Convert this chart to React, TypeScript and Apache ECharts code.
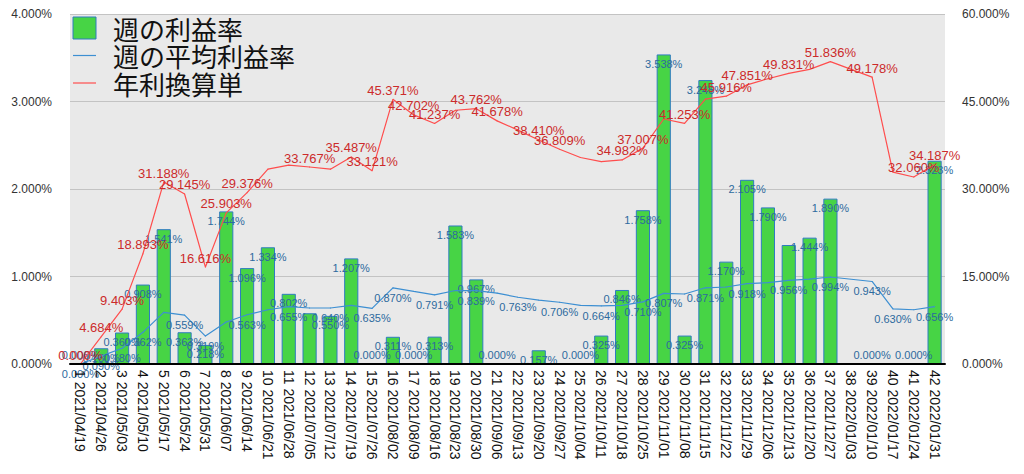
import React, { useEffect, useRef } from "react";
import * as echarts from "echarts";

const categories = [
  "1 2021/04/19", "2 2021/04/26", "3 2021/05/03", "4 2021/05/10", "5 2021/05/17",
  "6 2021/05/24", "7 2021/05/31", "8 2021/06/07", "9 2021/06/14", "10 2021/06/21",
  "11 2021/06/28", "12 2021/07/05", "13 2021/07/12", "14 2021/07/19", "15 2021/07/26",
  "16 2021/08/02", "17 2021/08/09", "18 2021/08/16", "19 2021/08/23", "20 2021/08/30",
  "21 2021/09/06", "22 2021/09/13", "23 2021/09/20", "24 2021/09/27", "25 2021/10/04",
  "26 2021/10/11", "27 2021/10/18", "28 2021/10/25", "29 2021/11/01", "30 2021/11/08",
  "31 2021/11/15", "32 2021/11/22", "33 2021/11/29", "34 2021/12/06", "35 2021/12/13",
  "36 2021/12/20", "37 2021/12/27", "38 2022/01/03", "39 2022/01/10", "40 2022/01/17",
  "41 2022/01/24", "42 2022/01/31",
];

const seriesNames = ["週の利益率", "週の平均利益率", "年利換算単"];

// 週の利益率 (%)
const weeklyRate: (number | null)[] = [
  0, 0.18, 0.36, 0.908, 1.541, 0.363, 0.218, 1.744, 1.096, 1.334,
  0.802, 0.58, 0.55, 1.207, 0, 0.311, 0, 0.313, 1.583, 0.967,
  0, null, 0.157, null, 0, 0.325, 0.846, 1.758, 3.538, 0.325,
  3.245, 1.17, 2.105, 1.79, 1.36, 1.444, 1.89, null, 0, null,
  0, 2.323,
];
const weeklyLabelShown = [
  1, 1, 1, 1, 1, 1, 1, 1, 1, 1,
  1, 0, 1, 1, 1, 1, 1, 1, 1, 1,
  1, 0, 1, 0, 1, 1, 1, 1, 1, 1,
  1, 1, 1, 1, 0, 1, 1, 0, 1, 0,
  1, 1,
];

// 週の平均利益率 (%)
const avgRate: (number | null)[] = [
  0, 0.09, 0.18, 0.362, 0.59, 0.559, 0.319, 0.48, 0.563, 0.62,
  0.655, 0.64, 0.64, 0.67, 0.635, 0.87, 0.83, 0.791, 0.84, 0.839,
  0.81, 0.763, 0.73, 0.706, 0.67, 0.664, 0.67, 0.71, 0.807, 0.8,
  0.871, 0.88, 0.918, 0.93, 0.956, 0.97, 0.994, null, 0.943, 0.63,
  0.62, 0.656,
];
const avgLabelShown = [
  1, 1, 1, 1, 0, 1, 1, 0, 1, 0,
  1, 0, 1, 0, 1, 1, 0, 1, 0, 1,
  0, 1, 0, 1, 0, 1, 0, 1, 1, 0,
  1, 0, 1, 0, 1, 0, 1, 0, 1, 1,
  0, 1,
];

// 年利換算単 (%)
const annualRate: (number | null)[] = [
  0, 4.684, 9.403, 18.893, 31.188, 29.145, 16.616, 25.903, 29.376, 33.4,
  34.1, 33.767, 33.4, 35.487, 33.121, 45.371, 42.702, 41.237, 43.5, 43.762,
  41.678, 40.1, 38.41, 36.809, 35.4, 34.7, 34.982, 37.007, 42.0, 41.253,
  45.4, 45.916, 47.851, 48.9, 49.831, 50.5, 51.836, null, 49.178, 32.9,
  32.06, 34.187,
];
const annualLabelShown = [
  1, 1, 1, 1, 1, 1, 1, 1, 1, 0,
  0, 1, 0, 1, 1, 1, 1, 1, 0, 1,
  1, 0, 1, 1, 0, 0, 1, 1, 0, 1,
  0, 1, 1, 0, 1, 0, 1, 0, 1, 0,
  1, 1,
];

const GREEN = "#47d445";
const BAR_BORDER = "#2f7cc0";
const BLUE = "#3d8fd2";
const BLUE_TEXT = "#2d6a9e";
const RED = "#ff4d4d";
const RED_TEXT = "#cc2b2b";
const NUM_FONT = "Liberation Sans, Arial, sans-serif";
const CJK_FONT = "Noto Sans CJK JP, sans-serif";

const pct = (v: number) => v.toFixed(3) + "%";

export default function App() {
  const ref = useRef<HTMLDivElement>(null);

  useEffect(() => {
    if (!ref.current) return;
    const chart = echarts.init(ref.current, null, { renderer: "svg" });

    const barData = weeklyRate.map((v, i) =>
      v === null
        ? null
        : {
            value: v,
            label: {
              show: !!weeklyLabelShown[i],
              position: v === 0 ? "top" : "insideTop",
              distance: v === 0 ? 3 : 4,
            },
          }
    );
    const avgData = avgRate.map((v, i) =>
      v === null ? null : { value: v, label: { show: !!avgLabelShown[i] } }
    );
    const annualData = annualRate.map((v, i) =>
      v === null ? null : { value: v, label: { show: !!annualLabelShown[i] } }
    );

    const legendX = 73;
    const legendRows = [28, 55.5, 83];

    chart.setOption({
      animation: false,
      grid: {
        left: 70,
        right: 79,
        top: 14,
        bottom: 110,
        show: true,
        backgroundColor: "#e9e9e9",
        borderWidth: 0,
      },
      xAxis: {
        type: "category",
        data: categories,
        axisTick: { show: false },
        axisLine: { lineStyle: { color: "#000", width: 2 } },
        axisLabel: {
          interval: 0,
          rotate: -90,
          fontSize: 14,
          color: "#111",
          margin: 6,
          fontFamily: NUM_FONT,
        },
        z: 5,
      },
      yAxis: [
        {
          type: "value",
          min: 0,
          max: 4,
          interval: 1,
          axisLine: { show: false },
          axisTick: { show: false },
          splitLine: { lineStyle: { color: "#c3c3c3", width: 1 } },
          axisLabel: {
            formatter: (v: number) => pct(v),
            fontSize: 12,
            color: "#333",
            margin: 18,
            fontFamily: NUM_FONT,
          },
        },
        {
          type: "value",
          min: 0,
          max: 60,
          interval: 15,
          axisLine: { show: false },
          axisTick: { show: false },
          splitLine: { show: false },
          axisLabel: {
            formatter: (v: number) => pct(v),
            fontSize: 12,
            color: "#333",
            margin: 17,
            fontFamily: NUM_FONT,
          },
        },
      ],
      series: [
        {
          name: seriesNames[0],
          type: "bar",
          yAxisIndex: 0,
          barWidth: "68%",
          itemStyle: { color: GREEN, borderColor: BAR_BORDER, borderWidth: 1 },
          label: {
            show: true,
            formatter: (p: any) => pct(p.value),
            fontSize: 11,
            color: BLUE_TEXT,
            fontFamily: NUM_FONT,
          },
          data: barData,
          z: 2,
        },
        {
          name: seriesNames[1],
          type: "line",
          yAxisIndex: 0,
          connectNulls: true,
          symbol: "circle",
          symbolSize: 1,
          showSymbol: true,
          showAllSymbol: true,
          lineStyle: { color: BLUE, width: 1.2 },
          itemStyle: { color: BLUE },
          label: {
            show: true,
            position: "bottom",
            distance: 4,
            formatter: (p: any) => pct(p.value),
            fontSize: 11,
            color: BLUE_TEXT,
            fontFamily: NUM_FONT,
          },
          data: avgData,
          z: 3,
        },
        {
          name: seriesNames[2],
          type: "line",
          yAxisIndex: 1,
          connectNulls: true,
          symbol: "circle",
          symbolSize: 1,
          showSymbol: true,
          showAllSymbol: true,
          lineStyle: { color: RED, width: 1.2 },
          itemStyle: { color: RED },
          label: {
            show: true,
            position: "top",
            distance: 2,
            formatter: (p: any) => pct(p.value),
            fontSize: 13,
            color: RED_TEXT,
            fontFamily: NUM_FONT,
          },
          data: annualData,
          z: 4,
        },
      ],
      graphic: [
        {
          type: "rect",
          shape: { x: legendX, y: legendRows[0] - 11, width: 23, height: 22 },
          style: { fill: GREEN, stroke: BAR_BORDER, lineWidth: 1 },
          z: 10,
        },
        {
          type: "line",
          shape: { x1: legendX, y1: legendRows[1], x2: legendX + 23, y2: legendRows[1] },
          style: { stroke: BLUE, lineWidth: 1.2 },
          z: 10,
        },
        {
          type: "line",
          shape: { x1: legendX, y1: legendRows[2], x2: legendX + 23, y2: legendRows[2] },
          style: { stroke: RED, lineWidth: 1.2 },
          z: 10,
        },
        ...seriesNames.map((n, i) => ({
          type: "text",
          x: 113,
          y: legendRows[i],
          style: {
            text: n,
            fontSize: 26,
            fill: "#111",
            fontFamily: CJK_FONT,
            verticalAlign: "middle",
            align: "left",
          },
          z: 10,
        })),
      ],
    });

    return () => chart.dispose();
  }, []);

  return (
    <div
      ref={ref}
      style={{ position: "absolute", left: 0, top: 0, width: 1024, height: 474 }}
    />
  );
}
